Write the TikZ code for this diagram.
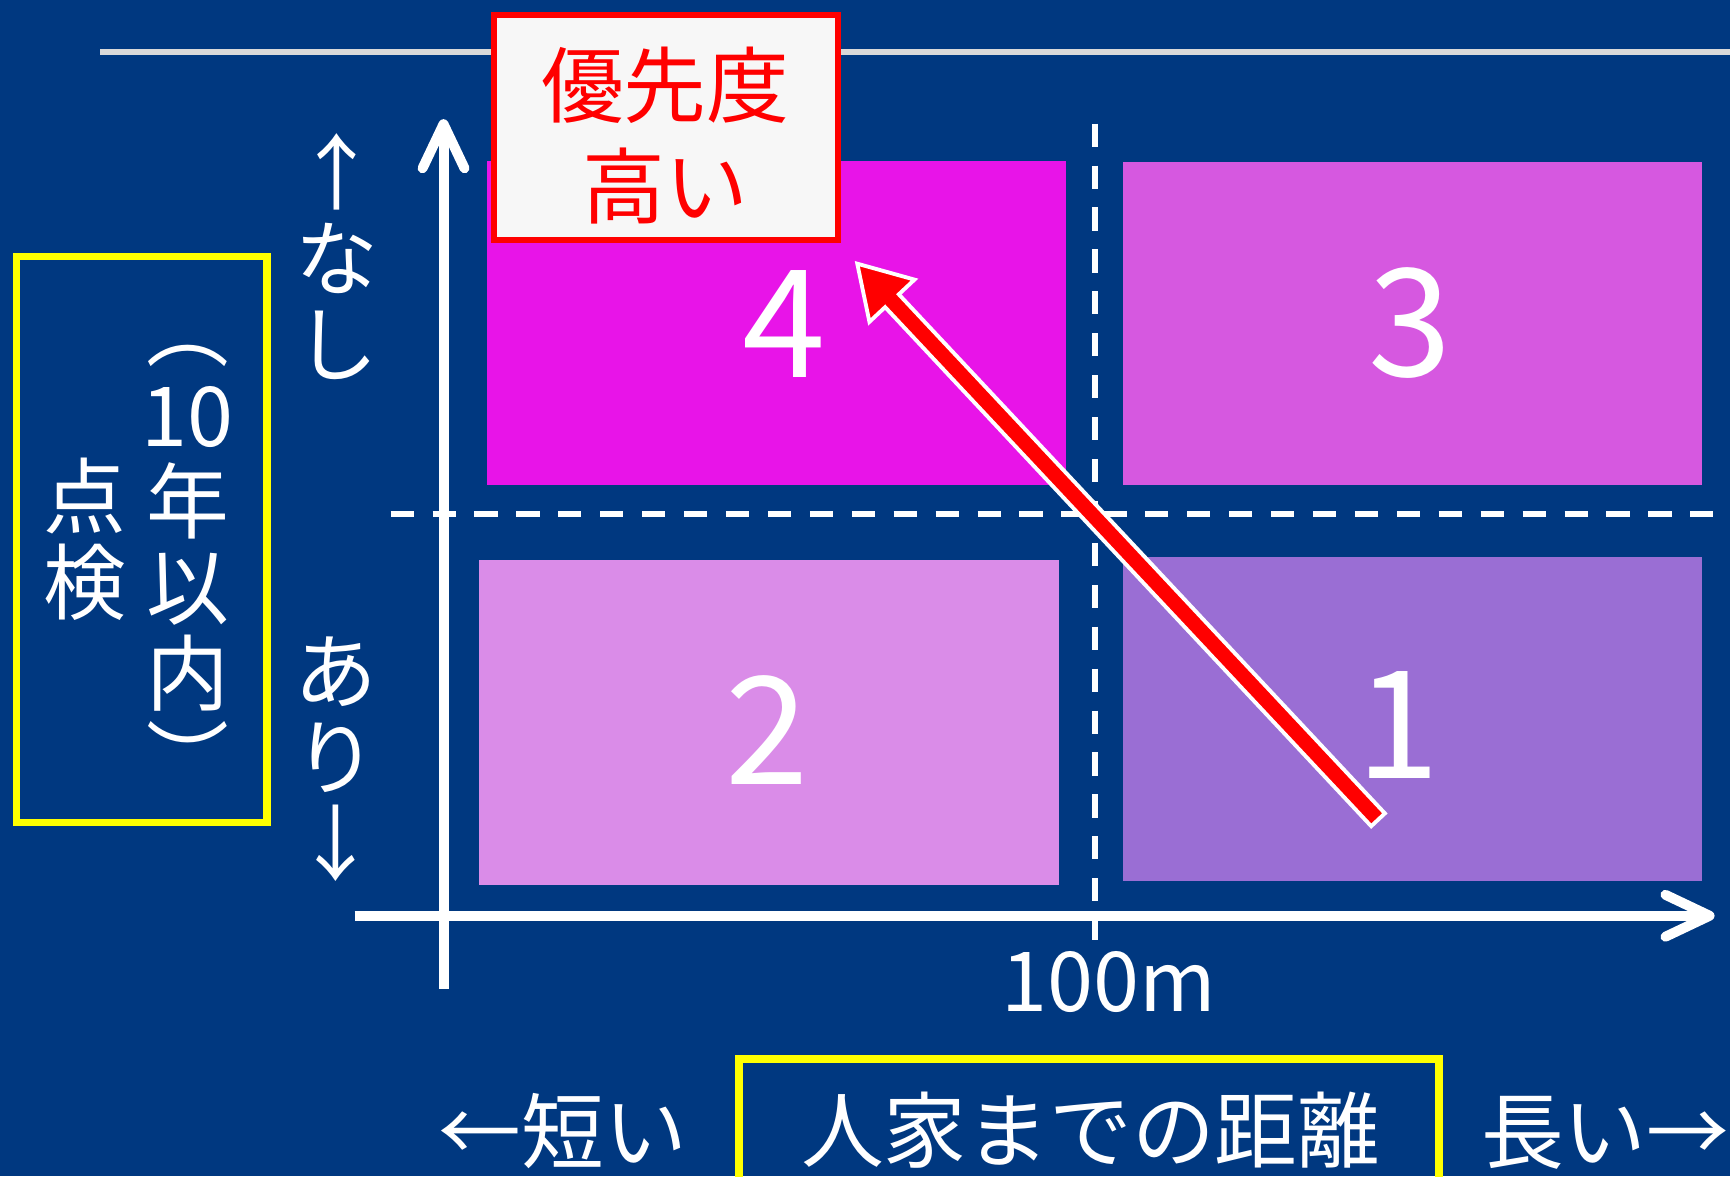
\documentclass[tikz,border=0pt]{standalone}
\usepackage{fontspec}
\setmainfont{Noto Sans CJK JP}
\usetikzlibrary{arrows.meta,calc}
\definecolor{bg}{RGB}{0,56,128}
\definecolor{cfour}{RGB}{232,20,232}
\definecolor{cthree}{RGB}{214,88,224}
\definecolor{ctwo}{RGB}{218,140,232}
\definecolor{cone}{RGB}{154,110,212}
\definecolor{glinec}{RGB}{217,217,217}
\definecolor{boxfill}{RGB}{247,247,247}
\definecolor{ylw}{RGB}{255,255,0}
\newcommand\cs{\rule[-0.12em]{0pt}{1em}}
\tikzset{
  qbox/.style={rectangle, inner sep=0pt, outer sep=0pt, draw=none},
  bignum/.style={text=white, inner sep=0pt, font=\fontsize{68pt}{70pt}\selectfont},
  jtxt/.style={text=white, inner sep=0pt, align=center, font=\fontsize{37.5pt}{39pt}\selectfont},
  axisline/.style={white, line width=4.5pt, line cap=butt, -{Straight Barb[length=20pt,width=19pt,round]}},
  dashline/.style={white, line width=2.5pt, dash pattern=on 10.5pt off 8.5pt},
  ybox/.style={rectangle, draw=ylw, line width=3.5pt, inner sep=0pt},
}
\begin{document}
\begin{tikzpicture}[x=0.5pt,y=-0.5pt]
\useasboundingbox (0,0) rectangle (1568,1066);
\clip (0,0) rectangle (1568,1066);
\fill[bg] (0,0) rectangle (1568,1066);

% top gray line
\coordinate (gA) at (91,47);
\coordinate (gB) at (1568,47);
\draw[glinec, line width=2.5pt] (gA) -- (gB);

% quadrant boxes
\node[qbox, fill=cfour, minimum width=262.5pt, minimum height=147pt] (b4) at (703.5,293) {};
\node[qbox, fill=cthree, minimum width=262.5pt, minimum height=146.7pt] (b3) at (1280.5,293.3) {};
\node[qbox, fill=ctwo, minimum width=262.75pt, minimum height=147pt] (b2) at (697.25,655) {};
\node[qbox, fill=cone, minimum width=262.5pt, minimum height=146.75pt] (b1) at (1280.5,651.75) {};

% dashed lines
\coordinate (vdT) at (992.5,112);
\coordinate (vdB) at (992.5,852);
\draw[dashline] (vdT) -- (vdB);
\coordinate (hdL) at (354,466);
\coordinate (hdR) at (1568,466);
\draw[dashline] (hdL) -- (hdR);

% axes
\coordinate (yaB) at (402,896);
\coordinate (yaT) at (402,108);
\draw[axisline] (yaB) -- (yaT);
\coordinate (xaL) at (321.5,830);
\coordinate (xaR) at (1554,830);
\draw[axisline] (xaL) -- (xaR);

% numbers
\node[bignum] (n4) at (711,294) {4};
\node[bignum] (n3) at (1278,293) {3};
\node[bignum] (n2) at (695,662) {2};
\node[bignum] (n1) at (1267,657) {1};

% priority box
\node[rectangle, draw=red, line width=2.75pt, fill=boxfill, inner sep=0pt,
      minimum width=155.75pt, minimum height=101.75pt] (prio) at (603.5,115.5) {};
\node[text=red, inner sep=0pt, align=center, font=\fontsize{37.5pt}{46pt}\selectfont]
  (prioTxt) at (603,123) {\cs 優先度\\\cs 高い};

% red arrow
\coordinate (aT) at (1249,743);
\coordinate (aH) at (777,239);
\coordinate (aC) at ($(aH)!23pt!(aT)$);
\filldraw[fill=red, draw=white, line width=1.75pt, line join=miter, miter limit=10]
  ($(aT)!4.25pt!90:(aH)$) -- ($(aC)!4.25pt!-90:(aT)$) -- ($(aC)!14pt!-90:(aT)$) -- (aH)
  -- ($(aC)!14pt!90:(aT)$) -- ($(aC)!4.25pt!90:(aT)$) -- ($(aT)!4.25pt!-90:(aH)$) -- cycle;

% left label box
\node[ybox, minimum width=113.5pt, minimum height=256.5pt] (chk) at (128.5,489) {};
\node[jtxt] (chkA) at (77,488.5) {\cs 点\\\cs 検};
\node[jtxt] (chkB) at (170,493) {\cs ︵\\\cs 10\\\cs 年\\\cs 以\\\cs 内\\\cs ︶};

% y-axis labels
\node[jtxt] (nashi) at (305,234) {\cs ↑\\\cs な\\\cs し};
\node[jtxt] (ari) at (304,686) {\cs あ\\\cs り\\\cs ↓};

% x-axis labels
\node[jtxt] (m100) at (1005,890) {100m};
\node[ybox, minimum width=317.5pt, minimum height=70pt] (dist) at (987,1030) {};
\node[jtxt] (distTxt) at (988.5,1024) {\cs 人家までの距離};
\node[jtxt] (short) at (510,1025) {\cs ←短い};
\node[jtxt] (long) at (1455,1025) {\cs 長い→};
\end{tikzpicture}
\end{document}
